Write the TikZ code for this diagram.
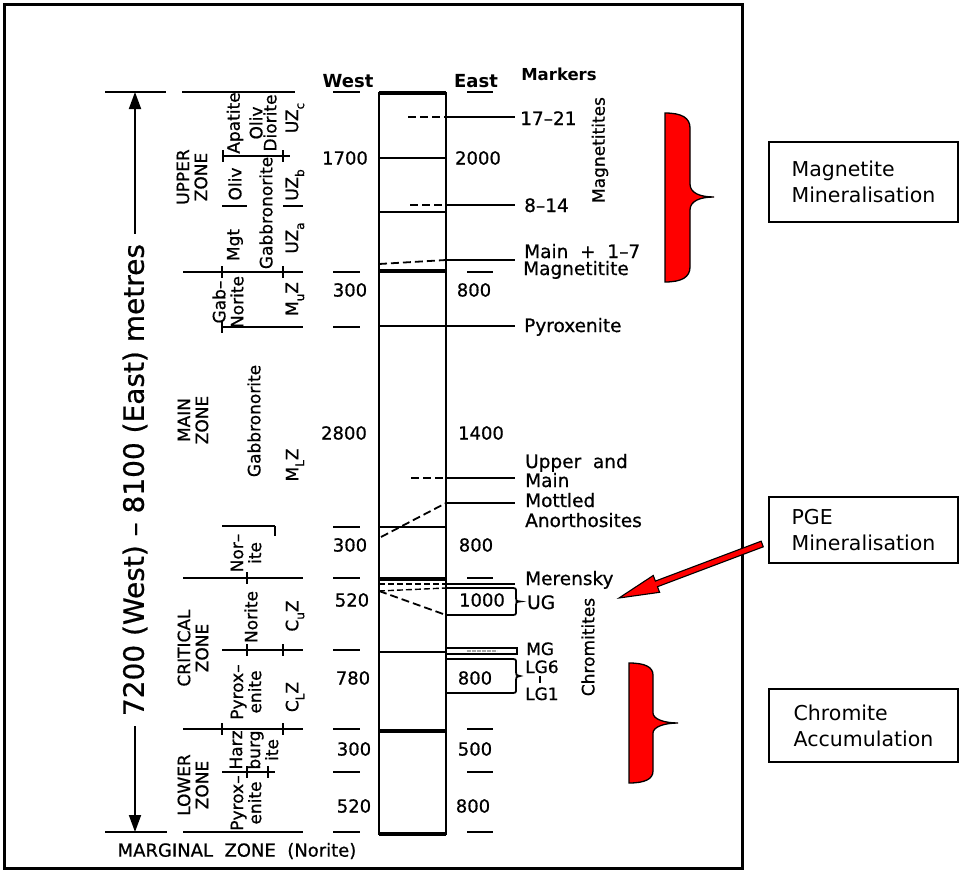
\documentclass[tikz,border=0pt]{standalone}
\usepackage{fontspec}
\setmainfont{DejaVu Sans}
\newfontfamily\cad{DejaVu Sans}[FakeBold=0.7]
\usetikzlibrary{arrows.meta,calc}
\newcommand\subs[1]{\raisebox{-0.35em}{\fontsize{12}{12}\selectfont #1}}
\begin{document}
\begin{tikzpicture}[x=1pt,y=-1pt,
  ln/.style={line width=1.8pt},
  bed/.style={line width=4.5pt},
  dsh/.style={line width=1.8pt, dash pattern=on 8pt off 4pt},
  lab/.style={inner sep=0pt, font=\cad\fontsize{18}{20}\selectfont},
  num/.style={inner sep=0pt, font=\cad\fontsize{18}{20}\selectfont},
  mk/.style={inner sep=0pt, anchor=base west, font=\cad\fontsize{18.5}{20}\selectfont},
  rot/.style={inner sep=0pt, rotate=90, align=center, font=\cad\fontsize{17}{18}\selectfont},
  redbrace/.style={fill=red, draw=black, line width=1.3pt},
  infobox/.style={draw, line width=1.6pt, minimum width=189pt, align=left, inner sep=0pt,
    font=\fontsize{20.5}{26}\selectfont}
]
\useasboundingbox (0,0) rectangle (964,878);
\fill[white] (0,0) rectangle (964,878);
% frame
\draw[line width=3pt] (4,4) rectangle (742,868);

% ---- overall thickness arrow
\draw[ln] (105,92) -- (166,92);
\draw[ln] (105,832) -- (167,832);
\coordinate (atop) at (135,92);
\coordinate (abot) at (135,832);
\node[inner sep=0pt, rotate=90, font=\cad\fontsize{28}{30}\selectfont] (dim) at (135,480) {7200 (West) – 8100 (East) metres};
\draw[ln, -{Triangle[length=17pt,width=12pt]}] ($(dim.east)+(0,-10)$) -- (atop);
\draw[ln, -{Triangle[length=17pt,width=12pt]}] ($(dim.west)+(0,10)$) -- (abot);

% ---- zone division lines
\draw[ln] (182,92) -- (295,92);
\draw[ln] (222,156) -- (290,156);
\draw[ln] (222,206) -- (247,206);
\draw[ln] (283,206) -- (303,206);
\draw[ln] (183,272) -- (303,272);
\draw[ln] (222,327) -- (303,327);
\draw[ln] (222,526) -- (275,526);
\draw[ln] (183,578) -- (303,578);
\draw[ln] (222,650) -- (303,650);
\draw[ln] (183,729) -- (303,729);
\draw[ln] (222,772) -- (275,772);
\draw[ln] (183,832) -- (303,832);
% small column ticks
\draw[ln] (223,150) -- (223,162);
\draw[ln] (283,150) -- (283,162);
\draw[ln] (222,266) -- (222,278);
\draw[ln] (283,266) -- (283,278);
\draw[ln] (222,321) -- (222,333);
\draw[ln] (275,526) -- (275,536);
\draw[ln] (247,572) -- (247,584);
\draw[ln] (247,644) -- (247,656);
\draw[ln] (283,644) -- (283,656);
\draw[ln] (222,723) -- (222,735);
\draw[ln] (283,723) -- (283,735);
\draw[ln] (247,766) -- (247,778);
\draw[ln] (268,766) -- (268,778);

% ---- zone texts
\node[rot] (uz) at (192,177) {UPPER\\ZONE};
\node[rot] (apat) at (235,123) {Apatite};
\node[rot, font=\cad\fontsize{17}{14}\selectfont] (olivd) at (263,123) {Oliv\\Diorite};
\node[rot] (uzc) at (295,118) {UZ\subs{c}};
\node[rot] (oliv) at (235,184) {Oliv};
\node[rot] (gabn1) at (266,213) {Gabbronorite};
\node[rot] (uzb) at (295,185) {UZ\subs{b}};
\node[rot] (mgt) at (235,245) {Mgt};
\node[rot] (uza) at (295,238) {UZ\subs{a}};
\node[rot] (gabno) at (228,302) {Gab–\\Norite};
\node[rot] (muz) at (295,299) {M\subs{u}Z};
\node[rot] (mz) at (193,420) {MAIN\\ZONE};
\node[rot] (gabn2) at (254,421) {Gabbronorite};
\node[rot] (mlz) at (295,465) {M\subs{L}Z};
\node[rot] (norite1) at (246,553) {Nor–\\ite};
\node[rot] (cz) at (193,648) {CRITICAL\\ZONE};
\node[rot] (norite2) at (251,617) {Norite};
\node[rot] (cuz) at (295,616) {C\subs{u}Z};
\node[rot] (pyrox1) at (246,692) {Pyrox–\\enite};
\node[rot] (clz) at (295,697) {C\subs{L}Z};
\node[rot] (lz) at (193,785) {LOWER\\ZONE};
\node[rot] (harz) at (254,750) {Harz\\burg\\ite};
\node[rot] (pyrox2) at (246,803) {Pyrox–\\enite};
\node[lab] (marg) at (237,851) {MARGINAL\ \ ZONE\ \ (Norite)};

% ---- headers
\node[inner sep=0pt, anchor=base, font=\bfseries\fontsize{18}{20}\selectfont] (west) at (348,87) {West};
\node[inner sep=0pt, anchor=base, font=\bfseries\fontsize{18}{20}\selectfont] (east) at (476,87) {East};
\node[inner sep=0pt, anchor=base, font=\bfseries\fontsize{16.5}{20}\selectfont] (markers) at (559,80) {Markers};

% ---- West / East ticks
\foreach \yy in {92,272,327,527,578,650,729,772,832} \draw[ln] (333,\yy) -- (360,\yy);
\foreach \yy in {92,272,578,729,772,832} \draw[ln] (467,\yy) -- (493,\yy);

% ---- thickness numbers
\node[num] (w1) at (345,158) {1700};
\node[num] (w2) at (350,290) {300};
\node[num] (w3) at (344,433) {2800};
\node[num] (w4) at (350,545) {300};
\node[num] (w5) at (352,600) {520};
\node[num] (w6) at (353,678) {780};
\node[num] (w7) at (354,749) {300};
\node[num] (w8) at (354,806) {520};
\node[num] (e1) at (478,158) {2000};
\node[num] (e2) at (474,290) {800};
\node[num] (e3) at (481,433) {1400};
\node[num] (e4) at (476,545) {800};
\node[num] (e5) at (482,600) {1000};
\node[num] (e6) at (475,678) {800};
\node[num] (e7) at (475,749) {500};
\node[num] (e8) at (473,806) {800};

% ---- column
\draw[ln] (379,93) rectangle (446,834);
\foreach \yy in {93,271,579,731,834} \draw[bed] (379,\yy) -- (446,\yy);
\foreach \yy in {158,212,527,652} \draw[ln] (379,\yy) -- (446,\yy);
% marker lines
\draw[dsh] (408,117) -- (446,117); \draw[ln] (446,117) -- (515,117);
\draw[dsh] (410,205) -- (446,205); \draw[ln] (446,205) -- (515,205);
\draw[dsh] (379,264) -- (446,260); \draw[ln] (446,260) -- (515,260);
\draw[ln] (379,326) -- (515,326);
\draw[dsh] (411,478) -- (446,478); \draw[ln] (446,478) -- (515,478);
\draw[dsh] (381,537) -- (446,503); \draw[ln] (446,503) -- (515,503);
\draw[line width=1.4pt, dash pattern=on 6pt off 3pt] (379,584) -- (446,584); \draw[ln] (446,584) -- (515,584);
\draw[line width=1.4pt, dash pattern=on 6pt off 3pt] (379,591) -- (446,588);
\draw[dsh] (379,591) -- (446,615);
% UG bracket
\draw[ln] (446,588) -- (510,588) .. controls (516,588) .. (516,592) -- (516,598)
  .. controls (516,601) .. (520,601.5) .. controls (516,602) .. (516,605) -- (516,611)
  .. controls (516,615) .. (510,615) -- (446,615);
% MG
\draw[ln] (446,648) -- (517,648) -- (517,654) -- (446,654);
\draw[line width=2pt, gray!70, dash pattern=on 4pt off 1pt] (467,651) -- (497,651);
% LG bracket
\draw[ln] (446,659) -- (510,659) .. controls (516,659) .. (516,663) -- (516,672)
  .. controls (516,675) .. (520,676) .. controls (516,677) .. (516,680) -- (516,689)
  .. controls (516,693) .. (510,693) -- (446,693);

% ---- marker labels
\node[mk] (m1) at (520,125) {17–21};
\node[mk] (m2) at (524,212) {8–14};
\node[mk] (m3) at (524,258) {Main\ \ +\ \ 1–7};
\node[mk] (m3b) at (523,275) {Magnetitite};
\node[mk] (m4) at (524,332) {Pyroxenite};
\node[mk] (m5) at (525,468) {Upper\ \ and};
\node[mk] (m5b) at (525,487) {Main};
\node[mk] (m6) at (525,507) {Mottled};
\node[mk] (m6b) at (525,527) {Anorthosites};
\node[mk] (m7) at (525,585) {Merensky};
\node[mk] (ug) at (527,609) {UG};
\node[mk, font=\cad\fontsize{17}{20}\selectfont] (mg) at (526,655) {MG};
\node[mk, font=\cad\fontsize{17}{20}\selectfont] (lg6) at (525,673) {LG6};
\draw[line width=1.2pt] (540,676) -- (540,683);
\node[mk, font=\cad\fontsize{17}{20}\selectfont] (lg1) at (525,700) {LG1};
\node[rot] (magn) at (600,150) {Magnetitites};
\node[rot] (chrom) at (588,647) {Chromitites};

% ---- red braces
\filldraw[redbrace] (665,113) .. controls (682,113) and (690,118) .. (690,128) -- (690,184)
  .. controls (690,193) and (700,197) .. (714,197) .. controls (700,197) and (690,201) .. (690,210)
  -- (690,267) .. controls (690,277) and (682,282) .. (665,282) -- cycle;
\filldraw[redbrace] (629,663) .. controls (645,663) and (653,667) .. (653,675) -- (653,713)
  .. controls (653,719) and (664,723) .. (678,723) .. controls (664,723) and (653,727) .. (653,733)
  -- (653,771) .. controls (653,779) and (645,783) .. (629,783) -- cycle;

% ---- info boxes
\node[infobox, minimum height=80pt] (magbox) at (863.5,182) {Magnetite\\Mineralisation};
\node[infobox, minimum height=66pt] (pge) at (863.5,530) {PGE\\Mineralisation};
\node[infobox, minimum height=73pt] (chrbox) at (863.5,725.5) {Chromite\\Accumulation};

% ---- red arrow
\coordinate (pgetail) at ($(pge.west)+(-6,14)$);
\coordinate (pgetip) at (619,598);
\coordinate (hb) at ($(pgetip)!40pt!(pgetail)$);
\filldraw[fill=red, draw=black, line width=1.1pt, line join=miter]
  (pgetip) -- ($(hb)!9pt!90:(pgetail)$) -- ($(hb)!3pt!90:(pgetail)$)
  -- ($(pgetail)!3pt!-90:(pgetip)$) -- ($(pgetail)!3pt!90:(pgetip)$)
  -- ($(hb)!3pt!-90:(pgetail)$) -- ($(hb)!9pt!-90:(pgetail)$) -- cycle;
\end{tikzpicture}
\end{document}
